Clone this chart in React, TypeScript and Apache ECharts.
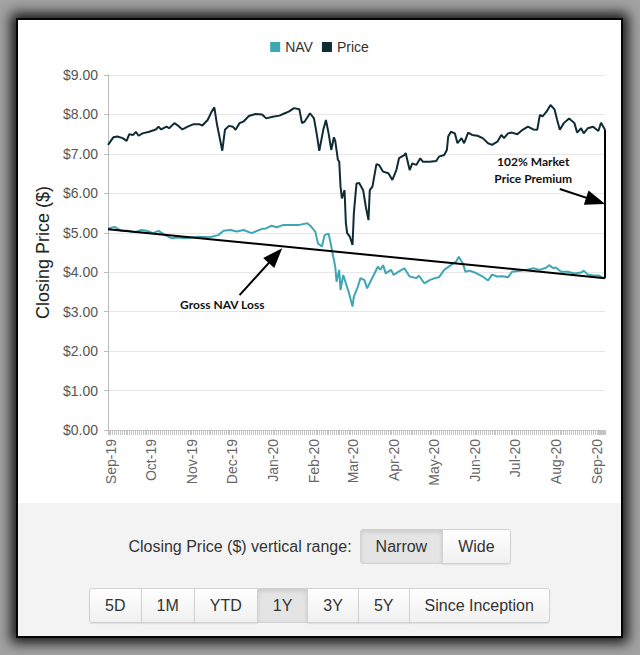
import React, { useEffect, useRef } from 'react';
import * as echarts from 'echarts';

const MONTHS = ['Jan', 'Feb', 'Mar', 'Apr', 'May', 'Jun', 'Jul', 'Aug', 'Sep', 'Oct', 'Nov', 'Dec'];
const SERIES_NAMES = ['NAV', 'Price'];
const START_DATE = '2019-08-30';
const END_DATE = '2020-09-07';

const PRICE: [string, number][] = [
  ['2019-08-30', 7.23], ['2019-09-03', 7.42], ['2019-09-06', 7.44], ['2019-09-10', 7.40], ['2019-09-13', 7.33],
  ['2019-09-15', 7.50], ['2019-09-18', 7.48], ['2019-09-20', 7.56], ['2019-09-22', 7.46], ['2019-09-25', 7.52],
  ['2019-09-30', 7.56], ['2019-10-05', 7.62], ['2019-10-07', 7.69], ['2019-10-09', 7.62], ['2019-10-13', 7.69],
  ['2019-10-15', 7.65], ['2019-10-19', 7.78], ['2019-10-22', 7.71], ['2019-10-25', 7.62], ['2019-10-29', 7.69],
  ['2019-11-02', 7.75], ['2019-11-07', 7.75], ['2019-11-09', 7.72], ['2019-11-13', 7.86], ['2019-11-16', 8.07],
  ['2019-11-18', 8.18], ['2019-11-20', 7.75], ['2019-11-24', 7.08], ['2019-11-26', 7.61], ['2019-11-29', 7.71],
  ['2019-12-02', 7.69], ['2019-12-04', 7.61], ['2019-12-07', 7.78], ['2019-12-10', 7.82], ['2019-12-14', 7.96],
  ['2019-12-19', 8.01], ['2019-12-24', 8.00], ['2019-12-27', 7.90], ['2020-01-01', 7.94], ['2020-01-06', 7.97],
  ['2020-01-10', 8.03], ['2020-01-13', 8.07], ['2020-01-17', 8.16], ['2020-01-21', 8.13], ['2020-01-23', 7.78],
  ['2020-01-25', 7.82], ['2020-01-29', 8.03], ['2020-02-01', 7.90], ['2020-02-03', 7.52], ['2020-02-05', 7.08],
  ['2020-02-08', 7.61], ['2020-02-10', 7.86], ['2020-02-12', 7.52], ['2020-02-14', 7.10], ['2020-02-16', 7.42],
  ['2020-02-17', 7.33], ['2020-02-19', 6.85], ['2020-02-20', 6.80], ['2020-02-21', 6.17], ['2020-02-22', 5.87],
  ['2020-02-24', 6.08], ['2020-02-25', 5.24], ['2020-02-26', 4.99], ['2020-02-28', 4.90], ['2020-03-01', 4.69],
  ['2020-03-02', 5.49], ['2020-03-04', 6.25], ['2020-03-06', 6.26], ['2020-03-09', 6.08], ['2020-03-11', 5.66],
  ['2020-03-13', 5.32], ['2020-03-14', 6.08], ['2020-03-16', 6.17], ['2020-03-19', 6.74], ['2020-03-21', 6.72],
  ['2020-03-24', 6.55], ['2020-03-28', 6.51], ['2020-03-31', 6.34], ['2020-04-03', 6.59], ['2020-04-05', 6.89],
  ['2020-04-09', 6.97], ['2020-04-10', 7.02], ['2020-04-13', 6.59], ['2020-04-15', 6.76], ['2020-04-18', 6.72],
  ['2020-04-21', 6.89], ['2020-04-23', 6.80], ['2020-04-28', 6.80], ['2020-05-03', 6.82], ['2020-05-05', 6.93],
  ['2020-05-09', 6.97], ['2020-05-11', 7.10], ['2020-05-12', 7.44], ['2020-05-14', 7.56], ['2020-05-17', 7.52],
  ['2020-05-19', 7.27], ['2020-05-22', 7.40], ['2020-05-24', 7.27], ['2020-05-27', 7.54], ['2020-05-30', 7.48],
  ['2020-06-03', 7.46], ['2020-06-07', 7.40], ['2020-06-11', 7.27], ['2020-06-14', 7.23], ['2020-06-18', 7.31],
  ['2020-06-21', 7.48], ['2020-06-23', 7.40], ['2020-06-26', 7.52], ['2020-06-29', 7.54], ['2020-07-03', 7.50],
  ['2020-07-07', 7.61], ['2020-07-11', 7.69], ['2020-07-15', 7.62], ['2020-07-18', 7.61], ['2020-07-20', 7.99],
  ['2020-07-22', 7.95], ['2020-07-25', 8.07], ['2020-07-28', 8.24], ['2020-07-31', 8.13], ['2020-08-02', 7.86],
  ['2020-08-04', 7.61], ['2020-08-07', 7.78], ['2020-08-11', 7.90], ['2020-08-15', 7.78], ['2020-08-17', 7.54],
  ['2020-08-20', 7.65], ['2020-08-22', 7.52], ['2020-08-25', 7.65], ['2020-08-29', 7.69], ['2020-09-02', 7.58],
  ['2020-09-04', 7.79], ['2020-09-07', 7.61],
];

const NAV: [string, number][] = [
  ['2019-08-30', 5.11], ['2019-09-04', 5.15], ['2019-09-09', 5.05], ['2019-09-14', 5.05], ['2019-09-19', 5.01],
  ['2019-09-24', 5.07], ['2019-09-28', 5.05], ['2019-10-03', 4.99], ['2019-10-07', 5.05], ['2019-10-12', 4.94],
  ['2019-10-17', 4.86], ['2019-10-22', 4.88], ['2019-10-27', 4.86], ['2019-11-01', 4.88], ['2019-11-06', 4.90],
  ['2019-11-11', 4.89], ['2019-11-16', 4.90], ['2019-11-21', 4.94], ['2019-11-25', 5.05], ['2019-11-30', 5.07],
  ['2019-12-05', 5.03], ['2019-12-10', 5.07], ['2019-12-16', 4.99], ['2019-12-24', 5.10], ['2019-12-27', 5.11],
  ['2019-12-31', 5.18], ['2020-01-04', 5.14], ['2020-01-09', 5.20], ['2020-01-16', 5.20], ['2020-01-21', 5.20],
  ['2020-01-27', 5.24], ['2020-01-30', 5.15], ['2020-02-02', 5.03], ['2020-02-04', 4.73], ['2020-02-07', 4.65],
  ['2020-02-09', 4.94], ['2020-02-12', 4.98], ['2020-02-13', 4.82], ['2020-02-15', 4.48], ['2020-02-17', 4.14],
  ['2020-02-18', 3.76], ['2020-02-20', 4.06], ['2020-02-21', 3.55], ['2020-02-23', 3.93], ['2020-02-25', 3.72],
  ['2020-02-27', 3.51], ['2020-03-01', 3.13], ['2020-03-02', 3.38], ['2020-03-05', 3.63], ['2020-03-07', 3.85],
  ['2020-03-10', 3.80], ['2020-03-12', 3.59], ['2020-03-15', 3.80], ['2020-03-17', 3.93], ['2020-03-20', 4.14],
  ['2020-03-22', 4.06], ['2020-03-24', 4.18], ['2020-03-26', 3.97], ['2020-03-30', 4.06], ['2020-04-01', 3.93],
  ['2020-04-05', 4.02], ['2020-04-09', 4.10], ['2020-04-13', 3.89], ['2020-04-18', 3.85], ['2020-04-20', 3.91],
  ['2020-04-24', 3.72], ['2020-04-28', 3.80], ['2020-05-02', 3.85], ['2020-05-05', 3.87], ['2020-05-09', 4.06],
  ['2020-05-14', 4.18], ['2020-05-18', 4.27], ['2020-05-20', 4.39], ['2020-05-23', 4.22], ['2020-05-25', 4.01],
  ['2020-05-28', 4.04], ['2020-06-02', 3.98], ['2020-06-07', 3.89], ['2020-06-11', 3.79], ['2020-06-14', 3.94],
  ['2020-06-18', 3.89], ['2020-06-22', 3.90], ['2020-06-26', 3.87], ['2020-06-29', 4.01], ['2020-07-05', 4.04],
  ['2020-07-10', 4.06], ['2020-07-15', 4.10], ['2020-07-20', 4.06], ['2020-07-25', 4.12], ['2020-07-27', 4.18],
  ['2020-07-30', 4.10], ['2020-08-01', 4.12], ['2020-08-05', 4.01], ['2020-08-10', 4.01], ['2020-08-15', 3.97],
  ['2020-08-20', 3.99], ['2020-08-22', 4.04], ['2020-08-25', 3.94], ['2020-08-29', 3.92], ['2020-09-02', 3.92],
  ['2020-09-05', 3.87], ['2020-09-07', 3.85],
];

// Annotation overlay (hand-drawn in the original)
const TREND_LINE: [string, number][] = [['2019-08-30', 5.09], ['2020-09-07', 3.85]];
const PREMIUM_LINE: [string, number][] = [['2020-09-07', 7.61], ['2020-09-07', 3.85]];
const NAV_ARROW: [string, number][] = [['2019-12-07', 3.42], ['2020-01-03', 4.42]];
const PREMIUM_ARROW: [string, number][] = [['2020-08-04', 6.11], ['2020-08-31', 5.81]];
const NAV_NOTE = { text: 'Gross NAV Loss', at: ['2019-11-24', 3.17] as [string, number] };
const PREMIUM_NOTE = { text: '102% Market\nPrice Premium', at: ['2020-07-15', 6.60] as [string, number] };

const VERTICAL_RANGE_LABEL = 'Closing Price ($) vertical range:';
const RANGE_MODES = ['Narrow', 'Wide'];
const PERIODS = ['5D', '1M', 'YTD', '1Y', '3Y', '5Y', 'Since Inception'];
const ACTIVE_MODE = 'Narrow';
const ACTIVE_PERIOD = '1Y';

const DAY = 24 * 3600 * 1000;
const FONT = '"Liberation Sans", Arial, Helvetica, sans-serif';

function Btn({ label, active, first, last }: { label: string; active: boolean; first: boolean; last: boolean }) {
  return (
    <div
      style={{
        height: 33,
        lineHeight: '33px',
        padding: '0 15px',
        fontSize: 16,
        color: '#333',
        fontFamily: FONT,
        border: '1px solid #d2d2d2',
        marginLeft: first ? 0 : -1,
        borderRadius: `${first ? 3 : 0}px ${last ? 3 : 0}px ${last ? 3 : 0}px ${first ? 3 : 0}px`,
        background: active ? '#e4e4e4' : 'linear-gradient(#ffffff, #f0f0f0)',
        boxShadow: active ? 'inset 0 2px 4px rgba(0,0,0,0.12)' : '0 1px 1px rgba(0,0,0,0.08)',
        whiteSpace: 'nowrap',
      }}
    >
      {label}
    </div>
  );
}

export default function App() {
  const ref = useRef<HTMLDivElement>(null);

  useEffect(() => {
    if (!ref.current) return;
    const chart = echarts.init(ref.current, undefined, { renderer: 'svg' });
    const arrowLine = (pts: [string, number][]) => [
      { coord: pts[0], symbol: 'none' },
      { coord: pts[1], symbol: 'triangle', symbolSize: [15, 20] },
    ];
    chart.setOption({
      animation: false,
      textStyle: { fontFamily: FONT },
      legend: {
        data: SERIES_NAMES,
        top: 15,
        left: 'center',
        icon: 'rect',
        itemWidth: 10,
        itemHeight: 10,
        itemGap: 9,
        textStyle: { fontSize: 14, color: '#333' },
      },
      grid: { left: 90, right: 16, top: 55, bottom: 73 },
      xAxis: {
        type: 'time',
        min: START_DATE,
        max: END_DATE,
        splitNumber: 12,
        minInterval: 28 * DAY,
        maxInterval: 31 * DAY,
        axisLine: { show: true, lineStyle: { color: '#c4c4c4' } },
        axisTick: { show: true, length: 5, lineStyle: { color: '#c4c4c4' } },
        minorTick: { show: true, splitNumber: 21, length: 5, lineStyle: { color: '#c4c4c4' } },
        splitLine: { show: false },
        axisLabel: {
          rotate: 90,
          margin: 9,
          fontSize: 14,
          color: '#666',
          showMinLabel: false,
          showMaxLabel: false,
          formatter: (val: number) => {
            const d = new Date(val);
            return MONTHS[d.getMonth()] + '-' + String(d.getFullYear()).slice(2);
          },
        },
      },
      yAxis: {
        type: 'value',
        min: 0,
        max: 9,
        interval: 1,
        name: 'Closing Price ($)',
        nameLocation: 'middle',
        nameGap: 54,
        nameTextStyle: { fontSize: 18, color: '#222' },
        axisLine: { show: true, lineStyle: { color: '#bdbdbd' } },
        axisTick: { show: true, length: 4, lineStyle: { color: '#bdbdbd' } },
        axisLabel: { fontSize: 14, color: '#555', margin: 10, formatter: (v: number) => '$' + v.toFixed(2) },
        splitLine: { lineStyle: { color: '#e6e6e6' } },
      },
      series: [
        {
          name: 'NAV',
          type: 'line',
          data: NAV,
          showSymbol: false,
          color: '#3fa7b3',
          lineStyle: { width: 2, color: '#3fa7b3' },
        },
        {
          name: 'Price',
          type: 'line',
          data: PRICE,
          showSymbol: false,
          color: '#0f2c35',
          lineStyle: { width: 2, color: '#0f2c35' },
        },
        {
          name: 'Trend',
          type: 'line',
          data: TREND_LINE,
          showSymbol: false,
          silent: true,
          lineStyle: { width: 2, color: '#000' },
          markLine: {
            silent: true,
            animation: false,
            label: { show: false },
            lineStyle: { color: '#000', width: 2, type: 'solid' },
            data: [
              [
                { coord: PREMIUM_LINE[0], symbol: 'none' },
                { coord: PREMIUM_LINE[1], symbol: 'none' },
              ],
              arrowLine(NAV_ARROW),
              arrowLine(PREMIUM_ARROW),
            ],
          },
          markPoint: {
            silent: true,
            symbol: 'rect',
            symbolSize: 1,
            itemStyle: { color: 'rgba(0,0,0,0)' },
            label: {
              show: true,
              position: 'inside',
              color: '#111',
              fontFamily: 'Lato, "Open Sans", sans-serif',
              fontWeight: 'bold',
              fontSize: 12,
              lineHeight: 17,
              align: 'center',
            },
            data: [
              { coord: NAV_NOTE.at, label: { formatter: NAV_NOTE.text } },
              { coord: PREMIUM_NOTE.at, label: { formatter: PREMIUM_NOTE.text } },
            ],
          },
        },
      ],
    });
    return () => chart.dispose();
  }, []);

  return (
    <div style={{ position: 'absolute', left: 0, top: 0, width: 640, height: 655, background: '#a3a3a3', overflow: 'hidden' }}>
      <div
        style={{
          position: 'absolute',
          left: 18,
          top: 20,
          width: 603,
          height: 616,
          background: '#fff',
          boxShadow: '0 0 0 2px #050505, 0 0 12px 7px #151515',
        }}
      >
        <div ref={ref} style={{ position: 'absolute', left: 0, top: 0, width: 603, height: 483 }} />
        <div style={{ position: 'absolute', left: 0, top: 483, width: 603, height: 133, background: '#f3f3f3' }}>
          <div
            style={{
              position: 'absolute',
              left: 0,
              top: 26,
              width: 603,
              display: 'flex',
              justifyContent: 'center',
              alignItems: 'center',
            }}
          >
            <div style={{ fontFamily: FONT, fontSize: 16, color: '#333', marginRight: 8, whiteSpace: 'nowrap' }}>
              {VERTICAL_RANGE_LABEL}
            </div>
            {RANGE_MODES.map((m, i) => (
              <Btn key={m} label={m} active={m === ACTIVE_MODE} first={i === 0} last={i === RANGE_MODES.length - 1} />
            ))}
          </div>
          <div
            style={{
              position: 'absolute',
              left: 0,
              top: 85,
              width: 603,
              display: 'flex',
              justifyContent: 'center',
            }}
          >
            {PERIODS.map((p, i) => (
              <Btn key={p} label={p} active={p === ACTIVE_PERIOD} first={i === 0} last={i === PERIODS.length - 1} />
            ))}
          </div>
        </div>
      </div>
    </div>
  );
}
